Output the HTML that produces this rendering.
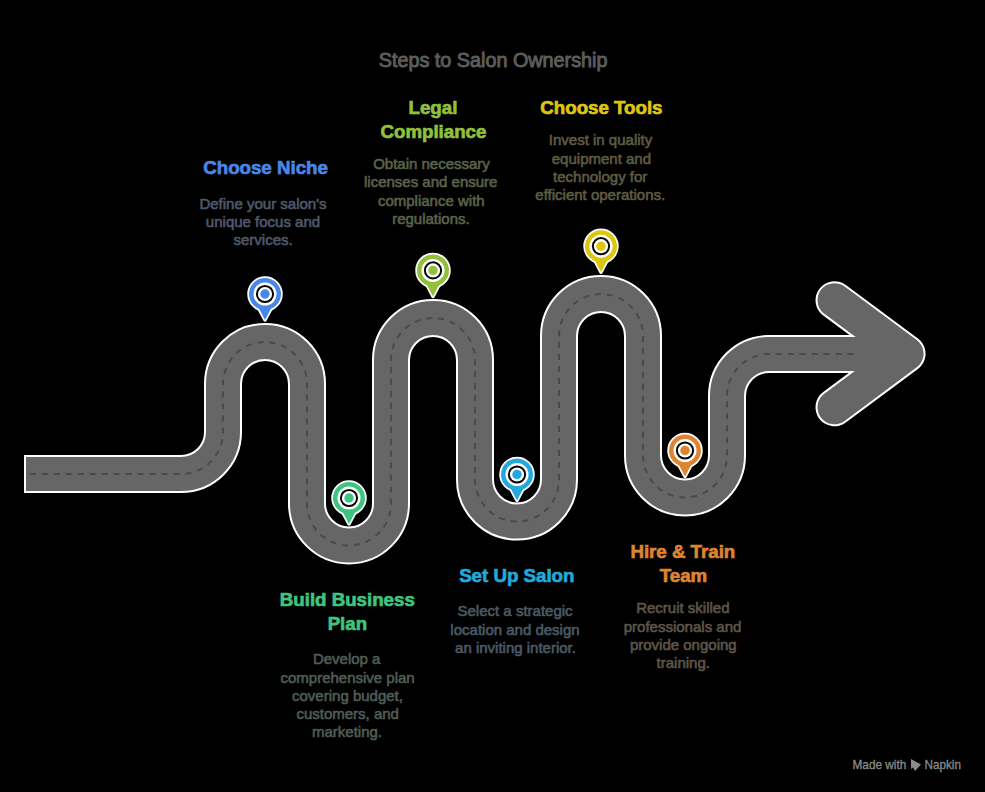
<!DOCTYPE html>
<html>
<head>
<meta charset="utf-8">
<style>
html,body{margin:0;padding:0;background:#000;}
body{width:985px;height:792px;overflow:hidden;position:relative;}
svg{position:absolute;left:0;top:0;}
text{font-family:"Liberation Sans",sans-serif;}
.h{font-weight:700;font-size:18.7px;text-anchor:middle;}
.b{font-size:15px;text-anchor:middle;}
</style>
</head>
<body>
<svg width="985" height="792" viewBox="0 0 985 792">

<g fill="none" stroke="#ffffff" stroke-width="38"><path d="M 24 474 H 30"/><path d="M 26 474 H 181 A 42 42 0 0 0 223 432 V 384 A 42 42 0 0 1 307 384 V 503.5 A 42 42 0 0 0 391 503.5 V 360 A 42 42 0 0 1 475 360 V 479.5 A 42 42 0 0 0 559 479.5 V 336 A 42 42 0 0 1 643 336 V 455.5 A 42 42 0 0 0 727 455.5 V 396 A 42 42 0 0 1 769 354 H 900"/><path d="M 834.5 300.2 L 906.6 353.7 L 834.5 407.3" stroke-linecap="round" stroke-linejoin="round"/></g>
<g fill="none" stroke="#666666" stroke-width="34"><path d="M 26 474 H 181 A 42 42 0 0 0 223 432 V 384 A 42 42 0 0 1 307 384 V 503.5 A 42 42 0 0 0 391 503.5 V 360 A 42 42 0 0 1 475 360 V 479.5 A 42 42 0 0 0 559 479.5 V 336 A 42 42 0 0 1 643 336 V 455.5 A 42 42 0 0 0 727 455.5 V 396 A 42 42 0 0 1 769 354 H 900"/><path d="M 834.5 300.2 L 906.6 353.7 L 834.5 407.3" stroke-linecap="round" stroke-linejoin="round"/></g>
<path d="M 29.8 474 H 181 A 42 42 0 0 0 223 432 V 384 A 42 42 0 0 1 307 384 V 503.5 A 42 42 0 0 0 391 503.5 V 360 A 42 42 0 0 1 475 360 V 479.5 A 42 42 0 0 0 559 479.5 V 336 A 42 42 0 0 1 643 336 V 455.5 A 42 42 0 0 0 727 455.5 V 396 A 42 42 0 0 1 769 354 H 854" fill="none" stroke="#4a4a4a" stroke-width="2" stroke-dasharray="6 5.98"/>
<g transform="translate(265,294)" fill="#4a86e8">
<path d="M -6 14.6 L 0 26 L 6 14.6 Z" stroke="#fff" stroke-width="3.5" stroke-linejoin="round"/>
<circle r="16" stroke="#fff" stroke-width="3.5"/>
<path d="M -6 14.6 L 0 26 L 6 14.6 Z"/>
<circle r="16"/>
<circle r="11.5" fill="#fff"/><circle r="9.1" fill="#000"/><circle r="7.1" fill="#fff"/><circle r="4.7"/>
</g>
<g transform="translate(349,498)" fill="#3ec47e">
<path d="M -6 14.6 L 0 26 L 6 14.6 Z" stroke="#fff" stroke-width="3.5" stroke-linejoin="round"/>
<circle r="16" stroke="#fff" stroke-width="3.5"/>
<path d="M -6 14.6 L 0 26 L 6 14.6 Z"/>
<circle r="16"/>
<circle r="11.5" fill="#fff"/><circle r="9.1" fill="#000"/><circle r="7.1" fill="#fff"/><circle r="4.7"/>
</g>
<g transform="translate(433,270.4)" fill="#91c03c">
<path d="M -6 14.6 L 0 26 L 6 14.6 Z" stroke="#fff" stroke-width="3.5" stroke-linejoin="round"/>
<circle r="16" stroke="#fff" stroke-width="3.5"/>
<path d="M -6 14.6 L 0 26 L 6 14.6 Z"/>
<circle r="16"/>
<circle r="11.5" fill="#fff"/><circle r="9.1" fill="#000"/><circle r="7.1" fill="#fff"/><circle r="4.7"/>
</g>
<g transform="translate(517,474.5)" fill="#22a8db">
<path d="M -6 14.6 L 0 26 L 6 14.6 Z" stroke="#fff" stroke-width="3.5" stroke-linejoin="round"/>
<circle r="16" stroke="#fff" stroke-width="3.5"/>
<path d="M -6 14.6 L 0 26 L 6 14.6 Z"/>
<circle r="16"/>
<circle r="11.5" fill="#fff"/><circle r="9.1" fill="#000"/><circle r="7.1" fill="#fff"/><circle r="4.7"/>
</g>
<g transform="translate(601,246.2)" fill="#ddc612">
<path d="M -6 14.6 L 0 26 L 6 14.6 Z" stroke="#fff" stroke-width="3.5" stroke-linejoin="round"/>
<circle r="16" stroke="#fff" stroke-width="3.5"/>
<path d="M -6 14.6 L 0 26 L 6 14.6 Z"/>
<circle r="16"/>
<circle r="11.5" fill="#fff"/><circle r="9.1" fill="#000"/><circle r="7.1" fill="#fff"/><circle r="4.7"/>
</g>
<g transform="translate(685,450.5)" fill="#de8430">
<path d="M -6 14.6 L 0 26 L 6 14.6 Z" stroke="#fff" stroke-width="3.5" stroke-linejoin="round"/>
<circle r="16" stroke="#fff" stroke-width="3.5"/>
<path d="M -6 14.6 L 0 26 L 6 14.6 Z"/>
<circle r="16"/>
<circle r="11.5" fill="#fff"/><circle r="9.1" fill="#000"/><circle r="7.1" fill="#fff"/><circle r="4.7"/>
</g>
<text x="493.1" y="66.7" font-size="19.8" fill="#5c5c5c" stroke="#5c5c5c" stroke-width="0.9" text-anchor="middle">Steps to Salon Ownership</text>
<text class="h" fill="#4a86e8" stroke="#4a86e8" stroke-width="0.7"><tspan x="265.55" y="174.4">Choose Niche</tspan></text>
<text class="b" fill="#50586c" stroke="#50586c" stroke-width="0.6"><tspan x="263.00" y="208.8">Define your salon's</tspan><tspan x="263.00" y="227.0">unique focus and</tspan><tspan x="263.10" y="245.20000000000002">services.</tspan></text>
<text class="h" fill="#91c03c" stroke="#91c03c" stroke-width="0.7"><tspan x="432.95" y="114.3">Legal</tspan><tspan x="433.45" y="138.4">Compliance</tspan></text>
<text class="b" fill="#5b6249" stroke="#5b6249" stroke-width="0.6"><tspan x="431.50" y="169.1">Obtain necessary</tspan><tspan x="430.70" y="187.29999999999998">licenses and ensure</tspan><tspan x="431.30" y="205.5">compliance with</tspan><tspan x="430.95" y="223.7">regulations.</tspan></text>
<text class="h" fill="#ddc612" stroke="#ddc612" stroke-width="0.7"><tspan x="601.40" y="114.4">Choose Tools</tspan></text>
<text class="b" fill="#5e5b40" stroke="#5e5b40" stroke-width="0.6"><tspan x="600.55" y="145.4">Invest in quality</tspan><tspan x="601.40" y="163.6">equipment and</tspan><tspan x="600.20" y="181.8">technology for</tspan><tspan x="600.25" y="200.0">efficient operations.</tspan></text>
<text class="h" fill="#3ec47e" stroke="#3ec47e" stroke-width="0.7"><tspan x="347.30" y="606">Build Business</tspan><tspan x="347.40" y="630.4">Plan</tspan></text>
<text class="b" fill="#4f5c53" stroke="#4f5c53" stroke-width="0.6"><tspan x="346.70" y="664.4">Develop a</tspan><tspan x="347.60" y="682.6">comprehensive plan</tspan><tspan x="347.50" y="700.8">covering budget,</tspan><tspan x="347.65" y="719.0">customers, and</tspan><tspan x="347.00" y="737.1999999999999">marketing.</tspan></text>
<text class="h" fill="#22a8db" stroke="#22a8db" stroke-width="0.7"><tspan x="516.80" y="581.8">Set Up Salon</tspan></text>
<text class="b" fill="#4b5a63" stroke="#4b5a63" stroke-width="0.6"><tspan x="515.05" y="616.4">Select a strategic</tspan><tspan x="515.00" y="634.6">location and design</tspan><tspan x="515.50" y="652.8">an inviting interior.</tspan></text>
<text class="h" fill="#de8430" stroke="#de8430" stroke-width="0.7"><tspan x="682.85" y="558.4">Hire &amp; Train</tspan><tspan x="683.50" y="582.1">Team</tspan></text>
<text class="b" fill="#5f5548" stroke="#5f5548" stroke-width="0.6"><tspan x="682.85" y="613.3">Recruit skilled</tspan><tspan x="682.55" y="631.5">professionals and</tspan><tspan x="683.30" y="649.6999999999999">provide ongoing</tspan><tspan x="683.30" y="667.9">training.</tspan></text>
<text x="852.5" y="768.75" font-size="12.6" fill="#8a8a8a" stroke="#8a8a8a" stroke-width="0.3" textLength="53.8" lengthAdjust="spacingAndGlyphs">Made with</text>
<path d="M 911 759 L 921 764.5 L 915 771 L 913.2 767.6 L 911 769 Z" fill="#8a8a8a"/>
<text x="924.5" y="768.75" font-size="12.6" fill="#8a8a8a" stroke="#8a8a8a" stroke-width="0.3" textLength="36.5" lengthAdjust="spacingAndGlyphs">Napkin</text>
</svg>
</body>
</html>
